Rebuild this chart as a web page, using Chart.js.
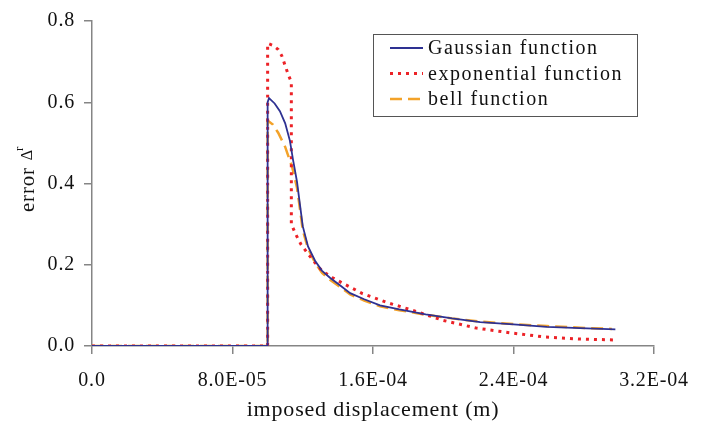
<!DOCTYPE html>
<html>
<head>
<meta charset="utf-8">
<script src="https://cdn.jsdelivr.net/npm/chart.js@4.4.0/dist/chart.umd.min.js"></script>
<style>
  html, body { margin: 0; padding: 0; background: #fff; }
  #wrap { width: 707px; height: 424px; }
</style>
</head>
<body>
<div id="wrap"><canvas id="errChart"></canvas></div>
<script>
// ── data ──
const seriesNames = ['Gaussian function', 'exponential function', 'bell function'];

const gaussX = [0, 1.0e-4, 1.0e-4, 1.008e-4, 1.04e-4, 1.07e-4, 1.10e-4, 1.127e-4, 1.144e-4, 1.167e-4, 1.185e-4, 1.20e-4,
  1.23e-4, 1.27e-4, 1.31e-4, 1.355e-4, 1.41e-4, 1.47e-4, 1.55e-4, 1.64e-4, 1.75e-4, 1.9e-4, 2.05e-4, 2.21e-4,
  2.4e-4, 2.59e-4, 2.78e-4, 2.98e-4];
const gaussY = [0, 0, 0.60, 0.61, 0.597, 0.578, 0.548, 0.505, 0.46, 0.405, 0.345, 0.295,
  0.245, 0.21, 0.185, 0.168, 0.15, 0.13, 0.115, 0.10, 0.09, 0.078, 0.068, 0.059,
  0.053, 0.047, 0.044, 0.041];

const expoX = [0, 1.0e-4, 1.0e-4, 1.03e-4, 1.06e-4, 1.08e-4, 1.10e-4, 1.12e-4, 1.135e-4, 1.135e-4, 1.16e-4, 1.19e-4,
  1.23e-4, 1.27e-4, 1.31e-4, 1.37e-4, 1.43e-4, 1.54e-4, 1.68e-4, 1.81e-4, 2.0e-4, 2.19e-4, 2.39e-4, 2.58e-4,
  2.78e-4, 2.97e-4];
const expoY = [0, 0, 0.745, 0.74, 0.73, 0.715, 0.69, 0.665, 0.65, 0.30, 0.275, 0.25,
  0.227, 0.205, 0.185, 0.168, 0.154, 0.129, 0.107, 0.09, 0.063, 0.044, 0.032, 0.022,
  0.017, 0.015];

const bellX = [0, 1.0e-4, 1.0e-4, 1.03e-4, 1.06e-4, 1.10e-4, 1.14e-4, 1.167e-4, 1.185e-4, 1.20e-4, 1.23e-4, 1.27e-4,
  1.31e-4, 1.355e-4, 1.41e-4, 1.47e-4, 1.55e-4, 1.64e-4, 1.75e-4, 1.9e-4, 2.05e-4, 2.21e-4, 2.4e-4, 2.59e-4,
  2.78e-4, 2.96e-4];
const bellY = [0, 0, 0.555, 0.545, 0.525, 0.49, 0.44, 0.39, 0.335, 0.285, 0.24, 0.205,
  0.18, 0.163, 0.146, 0.127, 0.112, 0.098, 0.088, 0.077, 0.068, 0.06, 0.054, 0.049,
  0.045, 0.042];

const xTickValues = [0, 8e-5, 1.6e-4, 2.4e-4, 3.2e-4];
const xTickLabels = ['0.0', '8.0E-05', '1.6E-04', '2.4E-04', '3.2E-04'];
const yTickValues = [0, 0.2, 0.4, 0.6, 0.8];
const yTickLabels = ['0.0', '0.2', '0.4', '0.6', '0.8'];

const FONT = '"Liberation Serif", "Times New Roman", serif';
const AXIS_GREY = '#858585';
const TEXT = '#111';

const toPoints = (xs, ys) => xs.map((x, i) => ({ x, y: ys[i] }));

// ── framed legend in the upper right ──
const boxLegend = {
  id: 'boxLegend',
  afterDraw(chart) {
    const ctx = chart.ctx;
    const left = 373, top = 34, w = 264, h = 82;
    ctx.save();
    ctx.strokeStyle = '#555';
    ctx.lineWidth = 1;
    ctx.strokeRect(left + 0.5, top + 0.5, w, h);
    ctx.font = '20px ' + FONT;
    ctx.letterSpacing = '1.5px';
    ctx.fillStyle = TEXT;
    ctx.textBaseline = 'middle';
    chart.data.datasets.forEach((ds, i) => {
      const y = 48 + i * 25.5;
      ctx.save();
      ctx.strokeStyle = ds.borderColor;
      ctx.lineWidth = ds.borderWidth;
      ctx.setLineDash(ds.borderDash || []);
      ctx.beginPath();
      ctx.moveTo(390, y);
      ctx.lineTo(423, y);
      ctx.stroke();
      ctx.restore();
      ctx.fillText(ds.label, 428, y + 1);
    });
    ctx.restore();
  }
};

// ── y title "error Δ^r" (superscript) ──
const yTitle = {
  id: 'yTitle',
  afterDraw(chart) {
    const ctx = chart.ctx;
    ctx.save();
    ctx.translate(34, 212);
    ctx.rotate(-Math.PI / 2);
    ctx.fillStyle = TEXT;
    ctx.textBaseline = 'alphabetic';
    ctx.letterSpacing = '0.8px';
    ctx.font = '21px ' + FONT;
    ctx.fillText('error', 0, 0);
    const w1 = ctx.measureText('error').width;
    ctx.letterSpacing = '0px';
    ctx.font = '16px ' + FONT;
    ctx.fillText('Δ', w1 + 7, -2);
    const w2 = ctx.measureText('Δ').width;
    ctx.font = '13px ' + FONT;
    ctx.fillText('r', w1 + 7 + w2 - 1, -11);
    ctx.restore();
  }
};

const spacing = {
  id: 'spacing',
  beforeDraw(chart) { chart.ctx.letterSpacing = '0.8px'; },
  afterDraw(chart) { chart.ctx.letterSpacing = '0px'; }
};

new Chart(document.getElementById('errChart').getContext('2d'), {
  type: 'line',
  data: {
    datasets: [
      {
        label: seriesNames[0],
        data: toPoints(gaussX, gaussY),
        borderColor: '#2e3192', borderWidth: 1.8,
        pointRadius: 0, tension: 0, fill: false,
      },
      {
        label: seriesNames[1],
        data: toPoints(expoX, expoY),
        borderColor: '#ec2227', borderWidth: 3, borderDash: [3, 5],
        pointRadius: 0, tension: 0, fill: false,
      },
      {
        label: seriesNames[2],
        data: toPoints(bellX, bellY),
        borderColor: '#f3a229', borderWidth: 2.5, borderDash: [12, 6],
        pointRadius: 0, tension: 0, fill: false,
      }
    ]
  },
  options: {
    responsive: true,
    maintainAspectRatio: false,
    animation: false,
    layout: { padding: { top: 18, right: 53, left: 0, bottom: 0 } },
    plugins: { legend: { display: false }, tooltip: { enabled: false } },
    scales: {
      x: {
        type: 'linear', min: 0, max: 3.2e-4,
        afterBuildTicks: s => { s.ticks = xTickValues.map(v => ({ value: v })); },
        afterFit: s => { s.height = 78; },
        grid: { drawOnChartArea: false, color: AXIS_GREY, lineWidth: 1.5, tickLength: 8 },
        border: { color: AXIS_GREY, width: 1.5 },
        ticks: { callback: (v, i) => xTickLabels[i], font: { family: FONT, size: 20 }, color: TEXT, padding: 15, maxRotation: 0 },
        title: { display: true, text: 'imposed displacement (m)', font: { family: FONT, size: 22 }, color: TEXT, padding: { top: 0, bottom: 1 } }
      },
      y: {
        type: 'linear', min: 0, max: 0.8,
        afterBuildTicks: s => { s.ticks = yTickValues.map(v => ({ value: v })); },
        afterFit: s => { s.width = 92; },
        grid: { drawOnChartArea: false, color: AXIS_GREY, lineWidth: 1.5, tickLength: 8 },
        border: { color: AXIS_GREY, width: 1.5 },
        ticks: { callback: (v, i) => yTickLabels[i], font: { family: FONT, size: 20 }, color: TEXT, padding: 9 }
      }
    }
  },
  plugins: [spacing, boxLegend, yTitle]
});
</script>
</body>
</html>
